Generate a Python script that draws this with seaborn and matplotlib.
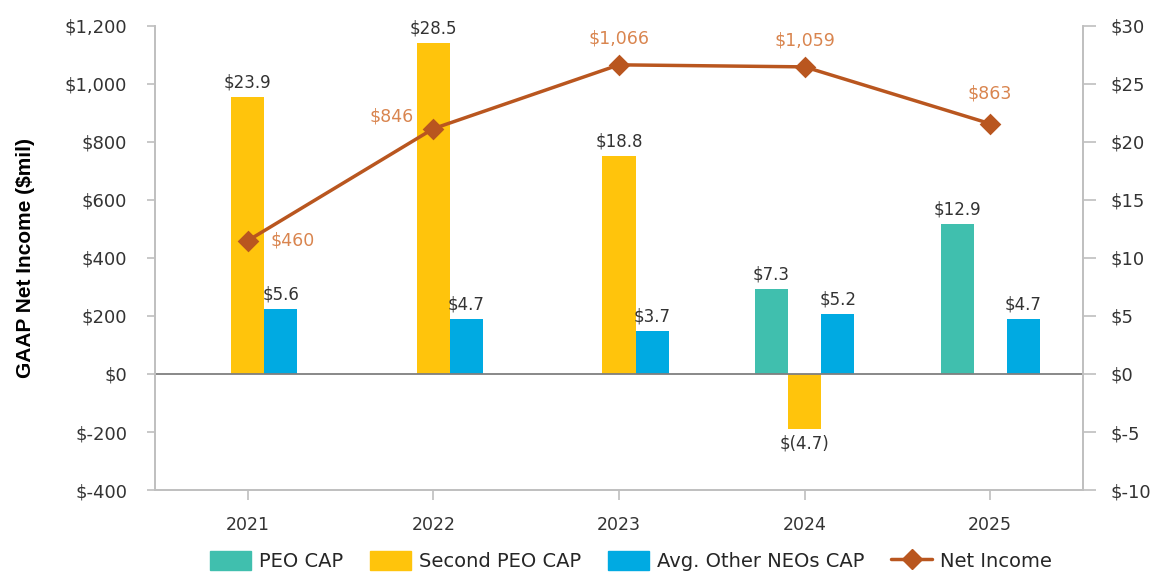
import numpy as np
import pandas as pd
import matplotlib
matplotlib.use("Agg")
import matplotlib.pyplot as plt
from matplotlib.patches import Patch
from matplotlib.lines import Line2D
import seaborn as sns

# ---- data ----
years = ["2021", "2022", "2023", "2024", "2025"]
peo_cap = [np.nan, np.nan, np.nan, 7.3, 12.9]
second_peo_cap = [23.9, 28.5, 18.8, -4.7, np.nan]
other_neos_cap = [5.6, 4.7, 3.7, 5.2, 4.7]
net_income = [460, 846, 1066, 1059, 863]

series_names = ["PEO CAP", "Second PEO CAP", "Avg. Other NEOs CAP"]
bar_colors = ["#40BFAE", "#FFC40C", "#00AAE2"]
line_color = "#B9561F"
ni_label_color = "#D9854F"
text_color = "#333333"

df = pd.DataFrame({
    "Year": years,
    "PEO CAP": peo_cap,
    "Second PEO CAP": second_peo_cap,
    "Avg. Other NEOs CAP": other_neos_cap,
})
long_df = df.melt(id_vars="Year", var_name="Series", value_name="Value").dropna()

sns.set_style("white")
plt.rcParams["font.family"] = ["DejaVu Sans"]

fig = plt.figure(figsize=(11.58, 5.76), dpi=100)
ax_bar = fig.add_axes([0.1339, 0.1493, 0.8013, 0.8056])
ax_line = ax_bar.twinx()

# bars live on the right-hand ($ mil CAP) scale
sns.barplot(data=long_df, x="Year", y="Value", hue="Series", order=years,
            hue_order=series_names, palette=bar_colors, width=0.535, gap=0,
            saturation=1, errorbar=None, legend=False, linewidth=0, ax=ax_bar)


def cap_label(v):
    if np.isnan(v):
        return ""
    if v < 0:
        return f"$({abs(v):.1f})"
    return f"${v:.1f}"


for cont in ax_bar.containers:
    ax_bar.bar_label(cont, fmt=cap_label, padding=4, fontsize=12, color=text_color)

ax_bar.axhline(0, color="#7F7F7F", lw=1.3, zorder=1)
ax_bar.set_ylim(-10, 30)
ax_bar.set_yticks(np.arange(-10, 31, 5))
ax_bar.set_yticklabels([f"${v}" for v in range(-10, 31, 5)])
ax_bar.yaxis.tick_right()
ax_bar.set_xlim(-0.5, 4.5)
ax_bar.set_xlabel("")
ax_bar.set_ylabel("")

# net income line on the left-hand scale, drawn above the bars
sns.pointplot(x=years, y=net_income, color=line_color, markers="D",
              markersize=9, linewidth=2.5, ax=ax_line)
ax_line.set_ylim(-400, 1200)
ax_line.set_yticks(np.arange(-400, 1201, 200))
ax_line.set_yticklabels([f"${v:,}" for v in range(-400, 1201, 200)])
ax_line.yaxis.tick_left()
ax_line.yaxis.set_label_position("left")
ax_line.set_ylabel("GAAP Net Income ($mil)", fontsize=15, fontweight="bold",
                   color="black", family=["Liberation Sans", "DejaVu Sans"])
ax_line.yaxis.set_label_coords(-0.129, 0.5)
ax_line.set_xlim(-0.5, 4.5)
ax_line.set_zorder(ax_bar.get_zorder() + 1)
ax_line.patch.set_visible(False)

label_offsets = [(16, 0, "left"), (-14, 9, "right"), (0, 19, "center"),
                 (0, 19, "center"), (0, 22, "center")]
for i, v in enumerate(net_income):
    dx, dy, ha = label_offsets[i]
    ax_line.annotate(f"${v:,}", (i, v), xytext=(dx, dy), textcoords="offset points",
                     ha=ha, va="center", fontsize=12.5, color=ni_label_color)

for a in (ax_bar, ax_line):
    a.spines["top"].set_visible(False)
    for side in ("left", "right", "bottom"):
        a.spines[side].set_color("#BFBFBF")
        a.spines[side].set_linewidth(1.2)
    a.tick_params(axis="y", colors="#BFBFBF", labelcolor=text_color,
                  labelsize=13, width=1.2)
ax_bar.tick_params(axis="y", length=9, pad=11)
ax_bar.tick_params(axis="x", bottom=True, colors="#BFBFBF", labelcolor=text_color,
                   labelsize=12.5, length=7, width=1.2, pad=12)
ax_line.tick_params(axis="x", bottom=False, labelbottom=False)
ax_line.yaxis.set_tick_params(which="major", length=6, pad=14)

handles = [Patch(color=c, label=n) for c, n in zip(bar_colors, series_names)]
handles.append(Line2D([], [], color=line_color, marker="D", markersize=10,
                      lw=2.5, label="Net Income"))
fig.legend(handles=handles, loc="lower center", bbox_to_anchor=(0.545, -0.022),
           ncol=4, frameon=False, fontsize=14, handlelength=2.1, handleheight=1.1,
           columnspacing=1.4, handletextpad=0.4)

fig.savefig("out.png", dpi=100)
